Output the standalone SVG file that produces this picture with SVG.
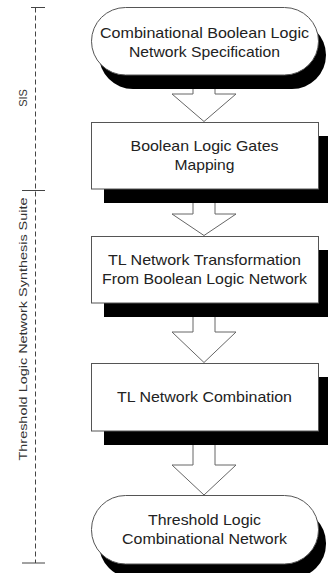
<svg xmlns="http://www.w3.org/2000/svg" width="328" height="573" viewBox="0 0 328 573">
<style>
  .shape { fill: #ffffff; stroke: #555555; stroke-width: 1; }
  .shadow { fill: #000000; stroke: none; }
  .arrow { fill: #ffffff; stroke: #666666; stroke-width: 1; stroke-linejoin: miter; }
  .t { font-family: "Liberation Sans", Arial, sans-serif; font-size: 15px; fill: #222222; text-anchor: middle; }
  .side { font-family: "Liberation Sans", Arial, sans-serif; font-size: 11px; fill: #333333; text-anchor: middle; }
  .dash { stroke: #444444; stroke-width: 1; stroke-dasharray: 5 3; fill: none; }
  .tick { stroke: #444444; stroke-width: 1; fill: none; }
</style>
<rect x="0" y="0" width="328" height="573" fill="#ffffff"/>

<g id="bracket">
  <line class="dash" x1="35.5" y1="7.5" x2="35.5" y2="563"/>
  <line class="tick" x1="31" y1="7.5" x2="45" y2="7.5"/>
  <line class="tick" x1="22" y1="190.5" x2="45" y2="190.5"/>
  <line class="tick" x1="22" y1="563" x2="45" y2="563"/>
  <text class="side" transform="translate(26.5,98) rotate(-90)">SIS</text>
  <text class="side" transform="translate(26.7,329) rotate(-90)" textLength="263" lengthAdjust="spacingAndGlyphs">Threshold Logic Network Synthesis Suite</text>
</g>

<g id="connectors">
  <polygon class="arrow" points="193,75 215,75 215,94 236,94 204,121.5 172,94 193,94"/>
  <polygon class="arrow" points="193,189 215,189 215,214 236,214 204,235.5 172,214 193,214"/>
  <polygon class="arrow" points="193,303 215,303 215,332 236,332 204,362.5 172,332 193,332"/>
  <polygon class="arrow" points="193,431 215,431 215,465 236,465 204,495 172,465 193,465"/>
</g>

<g id="node1">
  <rect class="shadow" x="99" y="21" width="227" height="68" rx="34" ry="34"/>
  <rect class="shape" x="91.5" y="7.5" width="227" height="67.5" rx="34" ry="34"/>
  <text class="t" x="204.5" y="38" textLength="209" lengthAdjust="spacingAndGlyphs">Combinational Boolean Logic</text>
  <text class="t" x="204.5" y="57" textLength="151" lengthAdjust="spacingAndGlyphs">Network Specification</text>
</g>

<g id="node2">
  <rect class="shadow" x="104" y="136" width="227" height="67"/>
  <rect class="shape" x="91.5" y="122.5" width="227" height="66.5"/>
  <text class="t" x="204.5" y="151" textLength="148" lengthAdjust="spacingAndGlyphs">Boolean Logic Gates</text>
  <text class="t" x="204.5" y="170" textLength="60" lengthAdjust="spacingAndGlyphs">Mapping</text>
</g>

<g id="node3">
  <rect class="shadow" x="104" y="250" width="227" height="67"/>
  <rect class="shape" x="91.5" y="236.5" width="227" height="66.5"/>
  <text class="t" x="204.5" y="265" textLength="193" lengthAdjust="spacingAndGlyphs">TL Network Transformation</text>
  <text class="t" x="204.5" y="284" textLength="205" lengthAdjust="spacingAndGlyphs">From Boolean Logic Network</text>
</g>

<g id="node4">
  <rect class="shadow" x="104" y="377" width="227" height="68"/>
  <rect class="shape" x="91.5" y="363.5" width="227" height="67.5"/>
  <text class="t" x="204.5" y="402" textLength="175" lengthAdjust="spacingAndGlyphs">TL Network Combination</text>
</g>

<g id="node5">
  <rect class="shadow" x="99" y="509" width="227" height="69" rx="34" ry="34"/>
  <rect class="shape" x="91.5" y="495.5" width="227" height="68.5" rx="34" ry="34"/>
  <text class="t" x="204.5" y="525" textLength="113" lengthAdjust="spacingAndGlyphs">Threshold Logic</text>
  <text class="t" x="204.5" y="544" textLength="165" lengthAdjust="spacingAndGlyphs">Combinational Network</text>
</g>
</svg>
